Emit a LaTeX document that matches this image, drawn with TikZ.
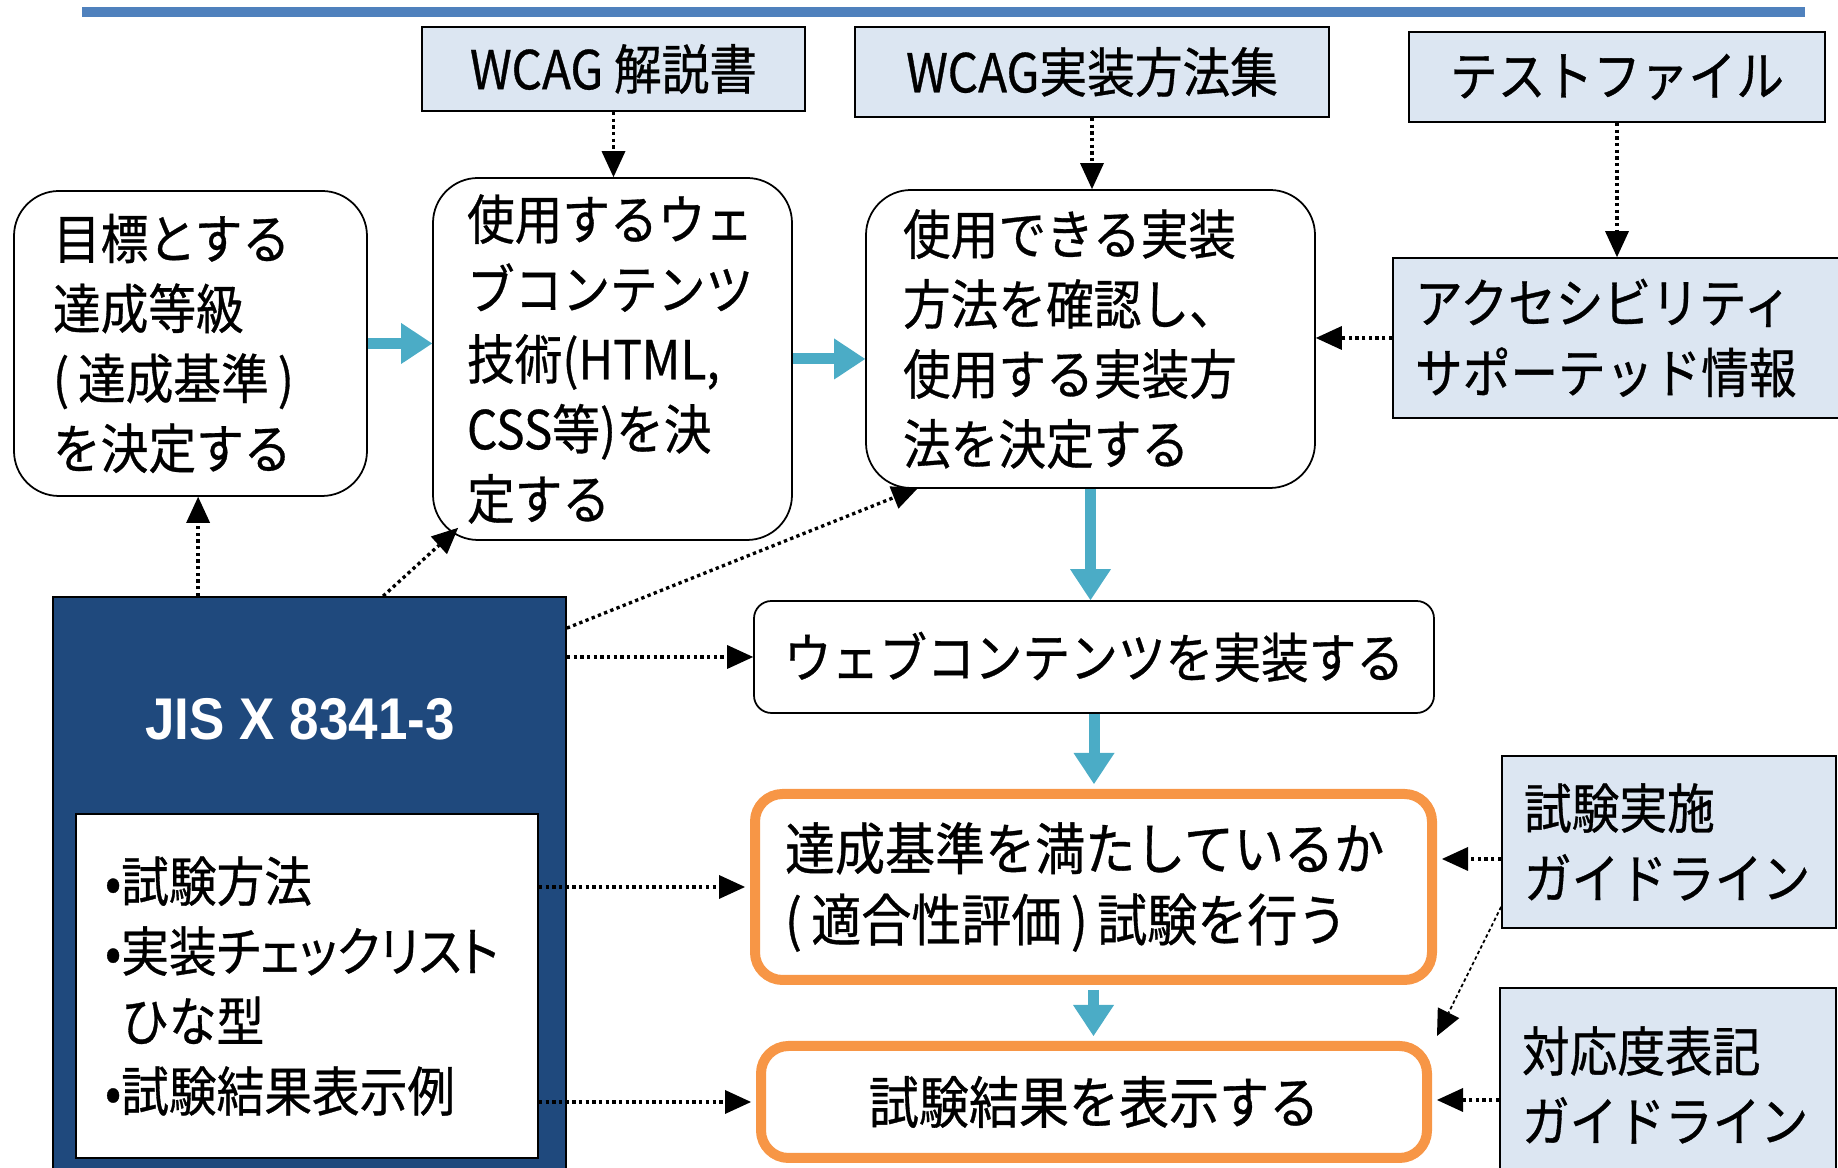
\documentclass[tikz,border=0pt]{standalone}
\usepackage{fontspec}
\setmainfont{Noto Sans CJK JP}[FakeStretch=0.89, FakeBold=0.6]
\newfontfamily\jisfont{Liberation Sans}[FakeStretch=0.9]
\usetikzlibrary{arrows.meta, positioning, calc}

\definecolor{rulebar}{HTML}{4F81BD}
\definecolor{refblue}{HTML}{DCE6F2}
\definecolor{flowteal}{HTML}{4BACC6}
\definecolor{jisblue}{HTML}{1F497D}
\definecolor{evalorange}{HTML}{F79646}

\newcommand{\boxfont}{\fontsize{30.5}{39.8}\selectfont}
\newcommand{\evalfont}{\fontsize{32}{40.5}\selectfont}

\begin{document}
\begin{tikzpicture}[
    refbox/.style={draw, fill=refblue, line width=1pt, font=\boxfont, align=left},
    task/.style={draw, fill=white, line width=1pt, rounded corners=0.9cm, font=\boxfont, align=left},
    implbox/.style={draw, fill=white, line width=1pt, rounded corners=0.35cm, font=\boxfont},
    evalbox/.style={draw=evalorange, fill=white, line width=0.2cm, rounded corners=0.55cm, font=\evalfont},
    flow/.style={draw=flowteal, line width=0.22cm, -{Triangle[length=0.62cm, width=0.82cm, line width=0pt]}},
    hint/.style={line width=1.9pt, dash pattern=on 1.9pt off 1.9pt, -{Triangle[length=0.52cm, width=0.48cm, line width=0pt]}},
]
\useasboundingbox (0,0) rectangle (36.76,23.36);

% === TOP RULE ===
\coordinate (rule_l) at (1.64,23.12);
\coordinate (rule_r) at (36.10,23.12);
\draw[rulebar, line width=0.2cm] (rule_l) -- (rule_r);

% === REFERENCE DOCUMENTS ===
\node[refbox, minimum width=7.66cm, minimum height=1.68cm] (wcagdoc) at (12.27,21.98) {WCAG 解説書};
\node[refbox, minimum width=9.48cm, minimum height=1.80cm] (wcagimpl) at (21.84,21.92) {WCAG実装方法集};
\node[refbox, minimum width=8.32cm, minimum height=1.80cm] (testfile) at (32.34,21.82) {テストファイル};
\node[refbox, text width=8.1cm, inner xsep=0.44cm, minimum height=3.2cm] (asup) at (32.35,16.6) {アクセシビリティ\\サポーテッド情報};

% === DECISIONS ===
\node[task, text width=5.5cm, inner xsep=0.78cm, minimum height=6.10cm] (goal) at (3.81,16.49)
    {目標とする\\達成等級\\(\,達成基準\,)\\を決定する};
\node[task, text width=5.82cm, inner xsep=0.68cm, minimum height=7.24cm] (tech) at (12.25,16.18)
    {使用するウェ\\ブコンテンツ\\技術(HTML,\\CSS等)を決\\定する};
\node[task, text width=7.5cm, inner xsep=0.74cm, minimum height=5.96cm] (method) at (21.81,16.58)
    {使用できる実装\\方法を確認し、\\使用する実装方\\法を決定する};

% === IMPLEMENT / TEST / REPORT ===
\node[implbox, minimum width=13.6cm, minimum height=2.24cm] (impl) at (21.88,10.22) {ウェブコンテンツを実装する};
\node[evalbox, text width=12.34cm, inner xsep=0.6cm, minimum height=3.72cm, align=left] (test) at (21.87,5.62)
    {達成基準を満たしているか\\(\,適合性評価\,)\,試験を行う};
\node[evalbox, minimum width=13.32cm, minimum height=2.24cm] (result) at (21.88,1.32) {試験結果を表示する};

% === GUIDELINES ===
\node[refbox, text width=5.8cm, inner xsep=0.44cm, minimum height=3.44cm] (testguide) at (33.38,6.52) {試験実施\\ガイドライン};
\node[refbox, text width=5.84cm, inner xsep=0.44cm, minimum height=3.88cm] (notation) at (33.36,1.66) {対応度表記\\ガイドライン};

% === JIS X 8341-3 ===
\node[draw, fill=jisblue, line width=1pt, minimum width=10.26cm, minimum height=11.62cm] (jis) at (6.19,5.61) {};
\node[text=white, font=\jisfont\bfseries\fontsize{33.5}{38}\selectfont] (jistitle) at (6.0,8.98) {JIS X 8341-3};
\node[draw, fill=white, line width=1pt, text width=8.08cm, inner xsep=0.58cm, minimum height=6.88cm,
    font=\boxfont, align=left] (jislist) at (6.14,3.64)
    {•試験方法\\{\addfontfeatures{RawFeature=+palt}•実装チェックリスト}\\\hphantom{•}ひな型\\•試験結果表示例};

% Main flow
\draw[flow] (goal.east) -- (goal.east -| tech.west);
\draw[flow] (tech.east) -- (tech.east -| method.west);
\draw[flow] (method.south) -- (method.south |- impl.north);
\draw[flow, shorten >=0.1cm] (impl.south) -- (impl.south |- test.north);
\draw[flow, shorten <=0.1cm, shorten >=0.1cm] (test.south) -- (test.south |- result.north);

% References into the decisions
\draw[hint] (wcagdoc.south) -- (wcagdoc.south |- tech.north);
\draw[hint] (wcagimpl.south) -- (wcagimpl.south |- method.north);
\draw[hint] (testfile.south) -- (testfile.south |- asup.north);
\draw[hint] (asup.west) -- (asup.west -| method.east);

% JIS links
\coordinate (jis_a) at ($(jis.north west)+(2.92,0)$);
\coordinate (jis_b) at ($(jis.north west)+(6.62,0)$);
\coordinate (jis_c) at ($(jis.north east)+(0,-0.64)$);
\coordinate (tech_in) at ($(tech.south west)+(0.52,0.26)$);
\coordinate (method_in) at ($(method.south west)+(1.06,0.02)$);
\draw[hint] (jis_a) -- (jis_a |- goal.south);
\draw[hint] (jis_b) -- (tech_in);
\draw[hint] (jis_c) -- (method_in);
\draw[hint] (impl.west -| jis.east) -- (impl.west);
\draw[hint, shorten >=0.1cm] (test.west -| jislist.east) -- (test.west);
\draw[hint, shorten >=0.1cm] (result.west -| jislist.east) -- (result.west);

% Guidelines into test and report
\coordinate (guide_out) at ($(testguide.west)+(0,-0.34)$);
\coordinate (note_out) at ($(notation.west)+(0,-0.3)$);
\draw[hint, shorten >=0.1cm] (guide_out) -- (guide_out -| test.east);
\draw[hint, line width=1pt, dash pattern=on 2pt off 1.5pt] ($(testguide.south west)+(0,0.44)$) -- ($(result.north east)+(0.1,0.1)$);
\draw[hint, shorten >=0.1cm] (note_out) -- (note_out -| result.east);

\end{tikzpicture}
\end{document}
